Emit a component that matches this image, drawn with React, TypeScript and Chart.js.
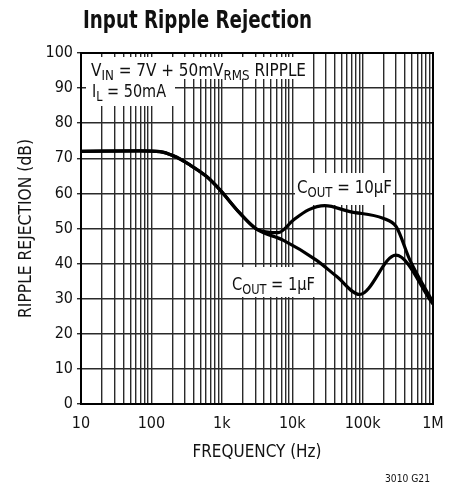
import React, { useEffect, useRef } from "react";
import { Chart, registerables } from "chart.js";

Chart.register(...registerables);

const FONT = "'Liberation Sans Narrow', 'DejaVu Sans Condensed', 'Roboto Condensed', sans-serif";

// Frequencies (Hz) and ripple rejection (dB)
const freqs10 = [10, 69, 132, 205, 353, 609, 942, 1820, 3140, 6300, 10400, 17000, 29000, 66000, 195000, 300000, 470000, 1000000];
const rej10 = [72, 72.1, 71.9, 70.7, 68.1, 64.8, 61, 54.3, 49.8, 48.8, 52.4, 55.3, 56.5, 54.8, 52.9, 50.5, 41, 29];

const freqs1 = [10, 69, 132, 205, 353, 609, 942, 1820, 3140, 7400, 22000, 43000, 91000, 296000, 1000000];
const rej1 = [72, 72.1, 71.9, 70.7, 68.1, 64.8, 61, 54.3, 49.8, 46.7, 41, 36.3, 31.2, 42.4, 28.5];

const decades = [10, 100, 1000, 10000, 100000, 1000000];
const decadeLabels = ["10", "100", "1k", "10k", "100k", "1M"];
const multiples = [1, 2, 3, 4, 5, 6, 7, 8, 9];

const TITLE = "Input Ripple Rejection";
const X_TITLE = "FREQUENCY (Hz)";
const Y_TITLE = "RIPPLE REJECTION (dB)";
const FOOTNOTE = "3010 G21";

type Part = { t: string; sub?: boolean };
const noteVin: Part[] = [{ t: "V" }, { t: "IN", sub: true }, { t: " = 7V + 50mV" }, { t: "RMS", sub: true }, { t: " RIPPLE" }];
const noteIl: Part[] = [{ t: "I" }, { t: "L", sub: true }, { t: " = 50mA" }];
const note10: Part[] = [{ t: "C" }, { t: "OUT", sub: true }, { t: " = 10µF" }];
const note1: Part[] = [{ t: "C" }, { t: "OUT", sub: true }, { t: " = 1µF" }];

function drawRich(
  ctx: CanvasRenderingContext2D,
  parts: Part[],
  x: number,
  y: number,
  size: number,
  width: number,
  weight = ""
) {
  ctx.save();
  ctx.textBaseline = "alphabetic";
  ctx.textAlign = "left";
  ctx.fillStyle = "#111";
  let total = 0;
  for (const p of parts) {
    const s = p.sub ? size * 0.78 : size;
    ctx.font = `${weight} ${s}px ${FONT}`;
    total += ctx.measureText(p.t).width;
  }
  const k = width / total;
  ctx.translate(x, y);
  ctx.scale(k, 1);
  let cx = 0;
  for (const p of parts) {
    const s = p.sub ? size * 0.78 : size;
    ctx.font = `${weight} ${s}px ${FONT}`;
    ctx.fillText(p.t, cx, p.sub ? size * 0.22 : 0);
    cx += ctx.measureText(p.t).width;
  }
  ctx.restore();
}

export default function App() {
  const ref = useRef<HTMLCanvasElement | null>(null);

  useEffect(() => {
    const canvas = ref.current;
    if (!canvas) return;
    const gridTicks: number[] = [];
    decades.forEach((d, i) => {
      if (i === decades.length - 1) gridTicks.push(d);
      else multiples.forEach((m) => gridTicks.push(d * m));
    });

    const overlay = {
      id: "overlay",
      beforeDatasetsDraw(chart: any) {
        const ctx = chart.ctx as CanvasRenderingContext2D;
        const a = chart.chartArea;
        ctx.save();
        ctx.fillStyle = "#fff";
        ctx.fillRect(86, 57, 227, 22);
        ctx.fillRect(86, 79, 89, 27);
        ctx.fillRect(295, 173, 98, 32);
        ctx.fillRect(228, 267, 90, 30);
        drawRich(ctx, noteVin, 91, 76, 18, 215);
        drawRich(ctx, noteIl, 92, 97, 18, 74);
        drawRich(ctx, note10, 297, 193, 18, 95);
        drawRich(ctx, note1, 232, 290, 18, 83);
        ctx.strokeStyle = "#000";
        ctx.lineWidth = 2;
        ctx.strokeRect(a.left, a.top, a.right - a.left, a.bottom - a.top);
        ctx.restore();
      },
      afterDraw(chart: any) {
        const ctx = chart.ctx as CanvasRenderingContext2D;
        const a = chart.chartArea;
        drawRich(ctx, [{ t: TITLE }], 83, 28, 25, 229, "bold");
        const xw = 129;
        drawRich(ctx, [{ t: X_TITLE }], (a.left + a.right) / 2 - xw / 2, 457, 17, xw);
        drawRich(ctx, [{ t: FOOTNOTE }], 385, 482, 10.5, 45);
        ctx.save();
        ctx.translate(31, (a.top + a.bottom) / 2);
        ctx.rotate(-Math.PI / 2);
        drawRich(ctx, [{ t: Y_TITLE }], -89.5, 0, 17, 179);
        ctx.restore();
      },
    };

    const chart = new Chart(canvas, {
      type: "line",
      data: {
        datasets: [
          {
            label: "COUT = 10µF",
            data: freqs10.map((f, i) => ({ x: f, y: rej10[i] })),
            borderColor: "#000",
            borderWidth: 3.2,
            pointRadius: 0,
            cubicInterpolationMode: "monotone",
            fill: false,
          },
          {
            label: "COUT = 1µF",
            data: freqs1.map((f, i) => ({ x: f, y: rej1[i] })),
            borderColor: "#000",
            borderWidth: 3.2,
            pointRadius: 0,
            cubicInterpolationMode: "monotone",
            fill: false,
          },
        ],
      },
      options: {
        animation: false,
        responsive: false,
        events: [],
        layout: { padding: { top: 53, right: 25, left: 0, bottom: 0 } },
        plugins: { legend: { display: false }, tooltip: { enabled: false }, title: { display: false } },
        scales: {
          x: {
            type: "logarithmic",
            min: 10,
            max: 1000000,
            afterBuildTicks: (scale: any) => {
              scale.ticks = gridTicks.map((v) => ({ value: v }));
            },
            afterFit: (scale: any) => {
              scale.height = 85;
            },
            ticks: {
              autoSkip: false,
              maxRotation: 0,
              padding: 10,
              color: "#111",
              font: { family: FONT, size: 16 },
              callback: (v: any) => {
                const i = decades.indexOf(Number(v));
                return i >= 0 ? decadeLabels[i] : "";
              },
            },
            grid: { color: "#2a2a2a", lineWidth: 1.4, drawTicks: false },
            border: { color: "#000", width: 2 },
          },
          y: {
            min: 0,
            max: 100,
            afterFit: (scale: any) => {
              scale.width = 81;
            },
            ticks: {
              stepSize: 10,
              padding: 4,
              color: "#111",
              font: { family: FONT, size: 16 },
            },
            grid: { color: "#2a2a2a", lineWidth: 1.4, drawTicks: true, tickLength: 4 },
            border: { color: "#000", width: 2 },
          },
        },
      },
      plugins: [overlay],
    } as any);
    return () => chart.destroy();
  }, []);

  return (
    <div style={{ position: "fixed", left: 0, top: 0, width: 458, height: 489, background: "#fff" }}>
      <canvas ref={ref} width={458} height={489} style={{ width: 458, height: 489 }} />
    </div>
  );
}
